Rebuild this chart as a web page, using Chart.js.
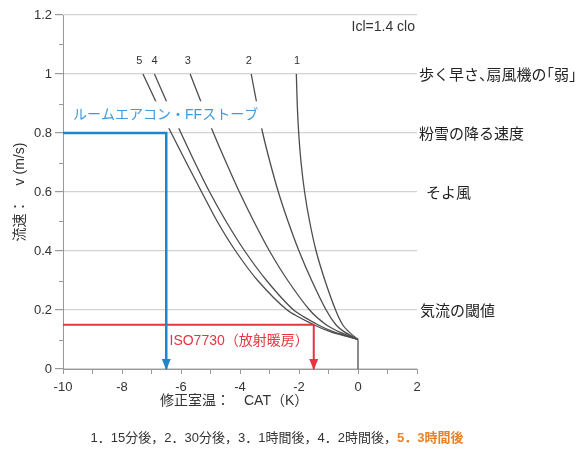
<!DOCTYPE html>
<html><head><meta charset="utf-8">
<script src="https://cdn.jsdelivr.net/npm/chart.js@4/dist/chart.umd.min.js"></script>
<style>html,body{margin:0;padding:0;background:#fff;} #wrap{width:577px;height:453px;}</style>
</head><body><div id="wrap"><canvas id="c" width="577" height="453"></canvas></div>
<script>
const FONT = "'Liberation Sans', 'Noto Sans CJK JP', sans-serif";
// velocity levels (m/s) at which each curve's CAT value was read
const velocityLevels = [0.1, 0.125, 0.15, 0.2, 0.3, 0.4, 0.5, 0.6, 0.7, 0.8, 0.9, 1.0];
// CAT (K) for each curve at those levels
const cat15min = [0, -0.3, -0.52, -0.76, -1.12, -1.42, -1.64, -1.81, -1.93, -2.01, -2.06, -2.09];
const cat30min = [0, -0.45, -0.75, -1.08, -1.57, -2.0, -2.37, -2.7, -2.98, -3.23, -3.43, -3.62];
const cat1h    = [0, -0.62, -1.08, -1.64, -2.38, -3.0, -3.53, -4.02, -4.47, -4.9, -5.3, -5.69];
const cat2h    = [0, -0.8, -1.36, -2.18, -3.1, -3.84, -4.47, -5.03, -5.53, -6.0, -6.46, -6.9];
const cat3h    = [0, -0.9, -1.5, -2.4, -3.4, -4.15, -4.77, -5.3, -5.82, -6.33, -6.82, -7.29];
const curveNumbers = ['1', '2', '3', '4', '5'];
const curveNumberX = [-2.07, -3.70, -5.77, -6.90, -7.41];
const curveNumberY = 1.044;
const stemX = [0, 0];
const stemY = [0, 0.1];
const roomAcX = [-10, -6.5, -6.5];
const roomAcY = [0.8, 0.8, 0];
const isoX = [-10, -1.5, -1.5];
const isoY = [0.15, 0.15, 0];
const roomAcLabel = 'ルームエアコン・FFストーブ';
const isoLabel = 'ISO7730（放射暖房）';
const refLabels = ['歩く早さ、扇風機の「弱」', '粉雪の降る速度', 'そよ風', '気流の閾値'];
const refLevels = [1.0, 0.8, 0.6, 0.2];
const refIndent = [0, 0, 7, 1];
const cloLabel = 'Icl=1.4 clo';
const xTitle = '修正室温：　CAT（K）';
const yTitle = '流速：　v (m/s)';
const legendParts = ['1．15分後，2．30分後，3．1時間後，4．2時間後，', '5．3時間後'];
const minorYTicks = [0.1, 0.3, 0.5, 0.7, 0.9, 1.1];

const zip = (xs, ys) => xs.map((v, i) => ({x: v, y: ys[i]}));
const curveStyle = {showLine: true, borderColor: '#4d4d4d', borderWidth: 1.3, pointRadius: 0, tension: 0.25, fill: false, order: 3};

const BLUE_LINE = '#1f86cc', BLUE_TEXT = '#3a9be0', RED = '#e8343e';

function drawProportional(ctx, text, x, y, size) {
  const openers = '「（';
  const halfs = '、。，．」）';
  let cx = x;
  for (const ch of text) {
    if (openers.includes(ch)) { ctx.fillText(ch, cx - size / 2, y); cx += size / 2; }
    else if (halfs.includes(ch)) { ctx.fillText(ch, cx, y); cx += size / 2; }
    else { ctx.fillText(ch, cx, y); cx += ctx.measureText(ch).width; }
  }
}

const overlay = {
  id: 'overlay',
  afterDraw(chart) {
    const {ctx, chartArea, scales: {x, y}} = chart;
    const px = v => x.getPixelForValue(v), py = v => y.getPixelForValue(v);
    ctx.save();
    // minor y ticks
    ctx.strokeStyle = '#999'; ctx.lineWidth = 1;
    for (const v of minorYTicks) {
      const yy = Math.round(py(v)) + 0.5;
      ctx.beginPath(); ctx.moveTo(chartArea.left - 4, yy); ctx.lineTo(chartArea.left, yy); ctx.stroke();
    }
    // arrow heads
    const arrow = (xv, yv, color) => {
      const tx = px(xv), ty = py(yv);
      ctx.fillStyle = color;
      ctx.beginPath(); ctx.moveTo(tx, ty + 1); ctx.lineTo(tx - 4.5, ty - 10); ctx.lineTo(tx + 4.5, ty - 10); ctx.closePath(); ctx.fill();
    };
    arrow(isoX[2], isoY[2], RED);
    arrow(roomAcX[2], roomAcY[2], BLUE_LINE);
    // blue label with white box
    ctx.font = '14px ' + FONT;
    ctx.textBaseline = 'middle'; ctx.textAlign = 'left';
    const bx = px(-9.66), by = py(0.86);
    const bw = ctx.measureText(roomAcLabel).width;
    ctx.fillStyle = '#fff';
    ctx.fillRect(bx - 3, by - 14, bw + 11, 27);
    ctx.fillStyle = BLUE_TEXT;
    ctx.fillText(roomAcLabel, bx, by);
    // red label
    ctx.fillStyle = RED;
    ctx.fillText(isoLabel, px(-6.39), py(0.093));
    // curve numbers
    ctx.font = '11px ' + FONT; ctx.fillStyle = '#333'; ctx.textAlign = 'center';
    curveNumbers.forEach((t, i) => ctx.fillText(t, px(curveNumberX[i]), py(curveNumberY)));
    // clo label
    ctx.font = '14px ' + FONT; ctx.textAlign = 'right';
    ctx.fillText(cloLabel, chartArea.right - 2, 27);
    // reference labels
    ctx.textAlign = 'left'; ctx.fillStyle = '#222'; ctx.font = '15px ' + FONT;
    refLabels.forEach((t, i) => {
      drawProportional(ctx, t, chartArea.right + 2 + refIndent[i], py(refLevels[i]) + 2, 15);
    });
    // x title
    ctx.font = '14px ' + FONT; ctx.fillStyle = '#333'; ctx.textAlign = 'left';
    ctx.fillText(xTitle, 160, 401);
    // bottom legend
    ctx.font = '13px ' + FONT;
    const w0 = ctx.measureText(legendParts[0]).width;
    ctx.font = 'bold 13px ' + FONT;
    const w1 = ctx.measureText(legendParts[1]).width;
    let lx = 277 - (w0 + w1) / 2;
    ctx.font = '13px ' + FONT; ctx.fillStyle = '#333';
    ctx.fillText(legendParts[0], lx, 438);
    ctx.font = 'bold 13px ' + FONT; ctx.fillStyle = '#e8822a';
    ctx.fillText(legendParts[1], lx + w0, 438);
    ctx.restore();
  }
};

new Chart(document.getElementById('c'), {
  type: 'scatter',
  data: {
    datasets: [
      Object.assign({label: curveNumbers[0], data: zip(cat15min, velocityLevels)}, curveStyle),
      Object.assign({label: curveNumbers[1], data: zip(cat30min, velocityLevels)}, curveStyle),
      Object.assign({label: curveNumbers[2], data: zip(cat1h, velocityLevels)}, curveStyle),
      Object.assign({label: curveNumbers[3], data: zip(cat2h, velocityLevels)}, curveStyle),
      Object.assign({label: curveNumbers[4], data: zip(cat3h, velocityLevels)}, curveStyle),
      Object.assign({label: 'stem', data: zip(stemX, stemY)}, curveStyle, {tension: 0}),
      {label: isoLabel, data: zip(isoX, isoY), showLine: true, borderColor: RED, borderWidth: 2, pointRadius: 0, tension: 0, order: 2},
      {label: roomAcLabel, data: zip(roomAcX, roomAcY), showLine: true, borderColor: BLUE_LINE, borderWidth: 2.5, pointRadius: 0, tension: 0, order: 1}
    ]
  },
  options: {
    responsive: false, animation: false, devicePixelRatio: 1,
    layout: {padding: {left: 0, right: 160, top: 15, bottom: 49}},
    plugins: {legend: {display: false}, tooltip: {enabled: false}},
    scales: {
      x: {
        type: 'linear', min: -10, max: 2,
        afterFit(s) { s.height = 35; },
        ticks: {stepSize: 1, autoSkip: false, maxRotation: 0, padding: 6, color: '#333', font: {family: FONT, size: 13},
          callback: v => (Math.abs(Math.round(v)) % 2 === 0 ? String(v) : '')},
        grid: {drawOnChartArea: false, tickLength: 5, tickColor: '#999'},
        border: {color: '#999'}
      },
      y: {
        type: 'linear', min: 0, max: 1.2,
        afterFit(s) { s.width = 63; },
        ticks: {stepSize: 0.2, padding: 3, color: '#333', font: {family: FONT, size: 13},
          callback: v => String(Math.round(v * 10) / 10)},
        grid: {color: '#d2d2d2', lineWidth: 1.2, tickLength: 8, tickColor: '#999'},
        border: {color: '#999'},
        title: {display: true, text: yTitle, color: '#333', font: {family: FONT, size: 14}, padding: {top: 11.6, bottom: 0}}
      }
    }
  },
  plugins: [overlay]
});
</script>
</body></html>
